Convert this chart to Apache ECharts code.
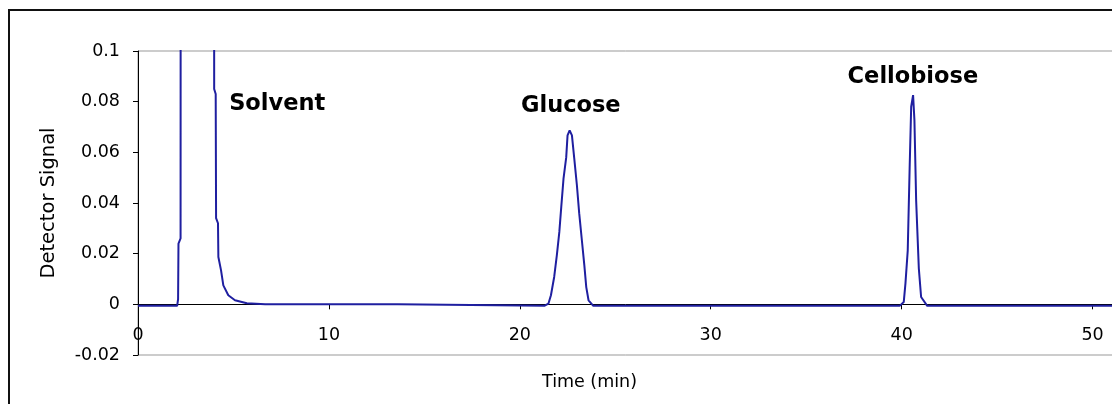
<!DOCTYPE html>
<html>
<head>
<meta charset="utf-8">
<title>Chromatogram</title>
<script src="https://cdn.jsdelivr.net/npm/echarts@6/dist/echarts.min.js"></script>
<style>
  html, body { margin: 0; padding: 0; background: #fff; }
  #chart { width: 1112px; height: 404px; }
</style>
</head>
<body>
<div id="chart"></div>
<script>
// Retention time (min) and detector response of the trace
const timeMin = [
  0, 2.05, 2.10, 2.12, 2.23, 2.25, 3.0, 3.97, 3.99, 4.07, 4.09, 4.19, 4.21, 4.35, 4.47, 4.73, 5.08, 5.70, 6.66,
  13.6, 13.7, 21.28,
  21.50, 21.63, 21.80, 21.94, 22.07, 22.17, 22.29, 22.43, 22.50, 22.61, 22.73, 22.85, 22.99, 23.11, 23.25, 23.38, 23.48, 23.60, 23.85,
  39.9, 40.11, 40.20, 40.32, 40.42, 40.50, 40.60, 40.67, 40.76, 40.90, 41.02, 41.34, 55
];
const signal = [
  -0.0006, -0.0006, 0.002, 0.024, 0.026, 0.5, 0.6, 0.45, 0.085, 0.083, 0.034, 0.032, 0.0187, 0.0134, 0.0075, 0.0036, 0.0016, 0.0004, 0,
  0, -0.0006, -0.0006,
  0.0003, 0.0036, 0.0108, 0.0194, 0.0286, 0.0384, 0.0497, 0.058, 0.0667, 0.0687, 0.0667, 0.0577, 0.047, 0.036, 0.0253, 0.0154, 0.0068, 0.0016, -0.0006,
  -0.0006, 0.0009, 0.0083, 0.0213, 0.054, 0.078, 0.0826, 0.0727, 0.041, 0.0142, 0.0029, -0.0006, -0.0006
];

// Peak names and where their labels sit (time, signal)
const peakNames = ['Solvent', 'Glucose', 'Cellobiose'];
const peakLabelTime = [7.29, 22.67, 40.59];
const peakLabelSignal = [0.079, 0.0783, 0.0897];

// Axis settings
const xMin = 0, xMax = 55, xStep = 10;
const yMin = -0.02, yMax = 0.1, yStep = 0.02;

const FONT = 'DejaVu Sans';

// Plot rectangle (px)
const plotLeft = 138, plotTop = 51, plotWidth = 1050, plotHeight = 304;
// The time axis sits on the zero line of the signal axis
const zeroOffset = -plotHeight * (0 - yMin) / (yMax - yMin);

const chart = echarts.init(document.getElementById('chart'), null, { renderer: 'canvas' });

const trace = timeMin.map((t, i) => [t, signal[i]]);
const labels = peakNames.map((n, i) => ({
  name: n,
  coord: [peakLabelTime[i], peakLabelSignal[i]]
}));

chart.setOption({
  animation: false,
  backgroundColor: '#fff',
  grid: {
    left: plotLeft,
    top: plotTop,
    width: plotWidth,
    height: plotHeight,
    outerBoundsMode: 'none',
    containLabel: false,
    show: true,
    borderColor: '#999',
    borderWidth: 1,
    backgroundColor: 'transparent'
  },
  xAxis: {
    type: 'value',
    min: xMin,
    max: xMax,
    interval: xStep,
    position: 'bottom',
    offset: zeroOffset,
    axisLine: { onZero: false, lineStyle: { color: '#000', width: 1 } },
    axisTick: { show: true, length: 5, lineStyle: { color: '#000' } },
    axisLabel: {
      color: '#000',
      fontFamily: FONT,
      fontSize: 17.5,
      margin: 22,
      showMaxLabel: false,
      hideOverlap: false
    },
    splitLine: { show: false }
  },
  yAxis: {
    type: 'value',
    min: yMin,
    max: yMax,
    interval: yStep,
    name: 'Detector Signal',
    nameLocation: 'middle',
    nameRotate: 90,
    nameGap: 79,
    nameTextStyle: { color: '#000', fontFamily: FONT, fontSize: 19.5 },
    axisLine: { onZero: false, lineStyle: { color: '#000', width: 1 } },
    axisTick: { show: true, length: 5, lineStyle: { color: '#000' } },
    axisLabel: {
      color: '#000',
      fontFamily: FONT,
      fontSize: 17.5,
      margin: 18,
      formatter: v => String(parseFloat(v.toFixed(2)))
    },
    splitLine: { show: false }
  },
  graphic: [
    {
      type: 'rect',
      z: -1,
      shape: { x: 9, y: 10, width: 1400, height: 700 },
      style: { fill: 'none', stroke: '#111', lineWidth: 2 },
      silent: true
    },
    {
      type: 'text',
      x: 589.5,
      y: 382,
      style: {
        text: 'Time (min)',
        fill: '#000',
        font: '17.5px "DejaVu Sans"',
        textAlign: 'center',
        textVerticalAlign: 'middle'
      }
    }
  ],
  series: [
    {
      type: 'line',
      data: trace,
      showSymbol: false,
      clip: true,
      lineStyle: { color: '#1f1fa0', width: 2 },
      markPoint: {
        symbol: 'circle',
        symbolSize: 0,
        silent: true,
        label: {
          show: true,
          position: 'inside',
          formatter: '{b}',
          color: '#000',
          fontFamily: FONT,
          fontWeight: 'bold',
          fontSize: 22.5
        },
        data: labels
      }
    }
  ]
});
</script>
</body>
</html>
